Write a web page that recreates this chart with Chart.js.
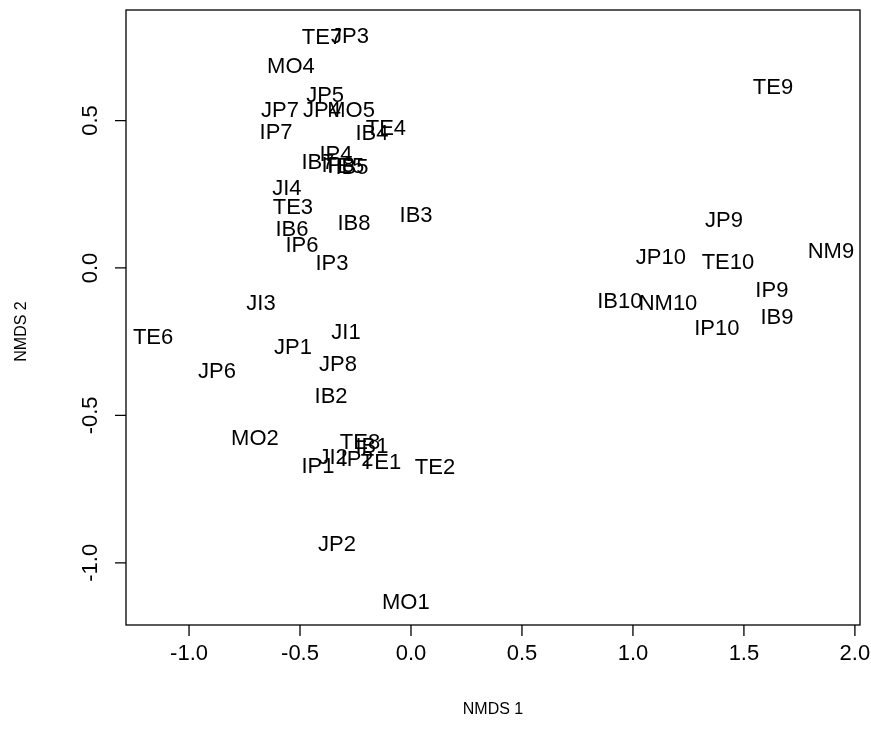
<!DOCTYPE html>
<html>
<head>
<meta charset="utf-8">
<script src="https://cdn.jsdelivr.net/npm/chart.js@4"></script>
<style>
  html, body { margin: 0; padding: 0; background: #fff; }
  #wrap { width: 871px; height: 744px; }
</style>
</head>
<body>
<div id="wrap"><canvas id="nmds"></canvas></div>
<script>
// site labels and their NMDS scores
const siteLabels = ['TE7','JP3','MO4','TE9','JP5','JP7','JP4','MO5','TE4','IP7',
  'IB4','IP4','IB7','IP8','TE5','IB5','JI4','TE3','IB8','IB3',
  'IB6','IP6','IP3','JP9','JP10','TE10','NM9','IB10','NM10','IP9',
  'IB9','IP10','JI3','TE6','JI1','JP1','JP8','JP6','IB2','MO2',
  'TE8','IB1','JI2','IP1','IP2','TE1','TE2','JP2','MO1'];
const nmds1 = [-0.401,-0.275,-0.541,1.631,-0.387,-0.590,-0.401,-0.270,-0.113,-0.608,
  -0.176,-0.338,-0.419,-0.329,-0.302,-0.266,-0.559,-0.532,-0.257,0.023,
  -0.536,-0.491,-0.356,1.410,1.126,1.428,1.892,0.941,1.158,1.626,
  1.649,1.378,-0.676,-1.162,-0.293,-0.532,-0.329,-0.874,-0.360,-0.703,
  -0.230,-0.176,-0.351,-0.419,-0.243,-0.135,0.108,-0.333,-0.023];
const nmds2 = [0.780,0.784,0.682,0.611,0.584,0.533,0.533,0.533,0.472,0.458,
  0.455,0.383,0.356,0.346,0.343,0.339,0.268,0.204,0.149,0.176,
  0.129,0.075,0.014,0.159,0.034,0.017,0.054,-0.115,-0.122,-0.078,
  -0.170,-0.207,-0.122,-0.238,-0.221,-0.271,-0.329,-0.353,-0.438,-0.580,
  -0.594,-0.607,-0.645,-0.675,-0.652,-0.662,-0.679,-0.940,-1.137];

const xTicks = [-1.0, -0.5, 0.0, 0.5, 1.0, 1.5, 2.0];
const yTicks = [-1.0, -0.5, 0.0, 0.5];

const points = siteLabels.map(function(lab, i) {
  return { x: nmds1[i], y: nmds2[i], label: lab };
});

// R-style box, outward ticks, rotated y labels and text markers
const baseGraphics = {
  id: 'baseGraphics',
  afterDraw: function(chart) {
    const c = chart.ctx;
    const a = chart.chartArea;
    const xs = chart.scales.x;
    const ys = chart.scales.y;
    c.save();
    c.strokeStyle = '#000';
    c.fillStyle = '#000';
    c.lineWidth = 1.3;
    c.strokeRect(a.left, a.top, a.right - a.left, a.bottom - a.top);

    c.font = '22px "Liberation Sans", Arial, sans-serif';
    c.textAlign = 'center';
    c.textBaseline = 'middle';

    // x axis
    c.beginPath();
    xTicks.forEach(function(v) {
      const px = xs.getPixelForValue(v);
      c.moveTo(px, a.bottom);
      c.lineTo(px, a.bottom + 11);
    });
    c.stroke();
    xTicks.forEach(function(v) {
      c.fillText(v.toFixed(1), xs.getPixelForValue(v), a.bottom + 29);
    });

    // y axis
    c.beginPath();
    yTicks.forEach(function(v) {
      const py = ys.getPixelForValue(v);
      c.moveTo(a.left, py);
      c.lineTo(a.left - 11, py);
    });
    c.stroke();
    yTicks.forEach(function(v) {
      c.save();
      c.translate(a.left - 35, ys.getPixelForValue(v));
      c.rotate(-Math.PI / 2);
      c.fillText(v.toFixed(1), 0, 0);
      c.restore();
    });

    // axis titles
    c.font = '16px "Liberation Sans", Arial, sans-serif';
    c.fillText('NMDS 1', (a.left + a.right) / 2, a.bottom + 85);
    c.save();
    c.translate(a.left - 104, (a.top + a.bottom) / 2 + 14);
    c.rotate(-Math.PI / 2);
    c.fillText('NMDS 2', 0, 0);
    c.restore();

    // site labels at each point
    c.font = '22px "Liberation Sans", Arial, sans-serif';
    const meta = chart.getDatasetMeta(0);
    meta.data.forEach(function(el, i) {
      c.fillText(points[i].label, el.x, el.y);
    });
    c.restore();
  }
};

new Chart(document.getElementById('nmds'), {
  type: 'scatter',
  data: {
    datasets: [{
      data: points,
      pointRadius: 0,
      pointHoverRadius: 0
    }]
  },
  options: {
    responsive: true,
    maintainAspectRatio: false,
    animation: false,
    events: [],
    layout: { padding: { left: 126, right: 11, top: 10, bottom: 119 } },
    plugins: { legend: { display: false }, tooltip: { enabled: false } },
    scales: {
      x: { type: 'linear', display: false, min: -1.284, max: 2.023 },
      y: { type: 'linear', display: false, min: -1.211, max: 0.875 }
    }
  },
  plugins: [baseGraphics]
});
</script>
</body>
</html>
